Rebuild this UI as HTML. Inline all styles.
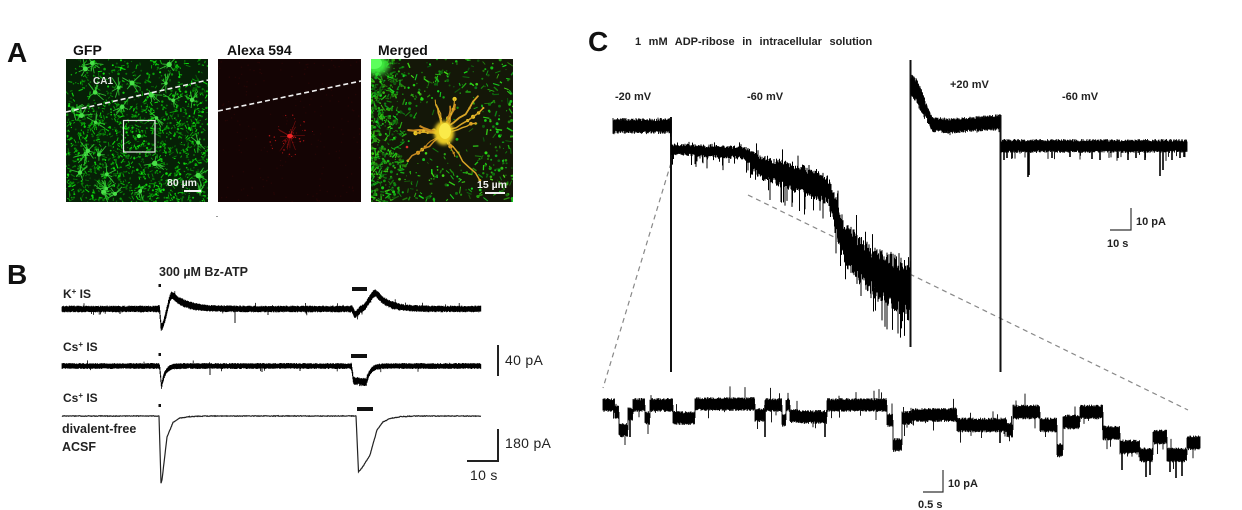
<!DOCTYPE html>
<html><head><meta charset="utf-8">
<style>
html,body{margin:0;padding:0;background:#fff;}
body{width:1242px;height:510px;overflow:hidden;position:relative;}
svg{position:absolute;left:0;top:0;}
text{font-family:"Liberation Sans",Arial,sans-serif;}
</style></head><body>
<svg id="s" width="1242" height="510" viewBox="0 0 1242 510" xmlns="http://www.w3.org/2000/svg">
<defs>
  <clipPath id="cg"><rect x="66" y="59" width="142" height="143"/></clipPath>
  <clipPath id="ca"><rect x="218" y="59" width="143" height="143"/></clipPath>
  <clipPath id="cm"><rect x="371" y="59" width="142" height="143"/></clipPath>
  <filter id="bl1" x="-50%" y="-50%" width="200%" height="200%"><feGaussianBlur stdDeviation="1.5"/></filter>
  <filter id="bl2" x="-50%" y="-50%" width="200%" height="200%"><feGaussianBlur stdDeviation="3"/></filter>
  <filter id="bl05"><feGaussianBlur stdDeviation="0.3"/></filter>
</defs>

<!-- Panel A images -->
<rect x="66" y="59" width="142" height="143" fill="#062006"/>
<g id="gfp" clip-path="url(#cg)"></g>
<rect x="218" y="59" width="143" height="143" fill="#140404"/>
<g id="alx" clip-path="url(#ca)"></g>
<rect x="371" y="59" width="142" height="143" fill="#141708"/>
<g id="mrg" clip-path="url(#cm)" filter="url(#bl05)"></g>

<line x1="66" y1="112" x2="208" y2="80" stroke="#f0f0f0" stroke-width="1.6" stroke-dasharray="5 3"/>
<line x1="218" y1="111" x2="361" y2="81" stroke="#f0f0f0" stroke-width="1.6" stroke-dasharray="5 3"/>
<rect x="123.5" y="120.5" width="31.5" height="31.5" fill="none" stroke="#e8e8e8" stroke-width="1.2"/>
<text x="93" y="84" font-size="10" font-weight="bold" fill="#e8e8e8">CA1</text>
<text x="167" y="186" font-size="10.5" font-weight="bold" fill="#f0f0f0">80 µm</text>
<rect x="184" y="190" width="17" height="2" fill="#f0f0f0"/>
<text x="477" y="188" font-size="10.5" font-weight="bold" fill="#f0f0f0">15 µm</text>
<rect x="485" y="192" width="20" height="2" fill="#f0f0f0"/>

<text x="7" y="62" font-size="28" font-weight="bold" fill="#111">A</text>
<text x="73" y="55" font-size="14" font-weight="bold" fill="#111">GFP</text>
<text x="227" y="55" font-size="14" font-weight="bold" fill="#111">Alexa 594</text>
<text x="378" y="55" font-size="14" font-weight="bold" fill="#111">Merged</text>
<rect x="216" y="216" width="2" height="1" fill="#999"/>

<!-- Panel B -->
<text x="7" y="284" font-size="28" font-weight="bold" fill="#111">B</text>
<text x="159" y="276" font-size="12.5" font-weight="bold" fill="#222">300 µM Bz-ATP</text>
<text x="63" y="298" font-size="12" font-weight="bold" fill="#222">K<tspan font-size="8" dy="-4">+</tspan><tspan dy="4"> IS</tspan></text>
<text x="63" y="351" font-size="12" font-weight="bold" fill="#222">Cs<tspan font-size="8" dy="-4">+</tspan><tspan dy="4"> IS</tspan></text>
<text x="63" y="402" font-size="12" font-weight="bold" fill="#222">Cs<tspan font-size="8" dy="-4">+</tspan><tspan dy="4"> IS</tspan></text>
<text x="62" y="433" font-size="12.5" font-weight="bold" fill="#222">divalent-free</text>
<text x="62" y="451" font-size="12.5" font-weight="bold" fill="#222">ACSF</text>

<rect x="158.5" y="284" width="2.5" height="3" fill="#111"/>
<rect x="352" y="287" width="15" height="4" fill="#111"/>
<rect x="158.5" y="353" width="2.5" height="3" fill="#111"/>
<rect x="351" y="354" width="16" height="4" fill="#111"/>
<rect x="158.5" y="404" width="2.5" height="3" fill="#111"/>
<rect x="357" y="407" width="16" height="4" fill="#111"/>

<rect x="497" y="345" width="2" height="31" fill="#222"/>
<text x="505" y="365" font-size="14" fill="#222" letter-spacing="0.3">40 pA</text>
<rect x="497" y="429" width="2" height="33" fill="#222"/>
<rect x="467" y="460" width="32" height="2" fill="#222"/>
<text x="505" y="448" font-size="14" fill="#222" letter-spacing="0.3">180 pA</text>
<text x="470" y="480" font-size="14" fill="#222" letter-spacing="0.3">10 s</text>

<!-- Panel C -->
<text x="588" y="51" font-size="28" font-weight="bold" fill="#111">C</text>
<text x="635" y="45" font-size="11" font-weight="bold" fill="#222" word-spacing="4.5">1 mM ADP-ribose in intracellular solution</text>
<text x="615" y="100" font-size="11" font-weight="bold" fill="#222">-20 mV</text>
<text x="747" y="100" font-size="11" font-weight="bold" fill="#222">-60 mV</text>
<text x="950" y="88" font-size="11" font-weight="bold" fill="#222">+20 mV</text>
<text x="1062" y="100" font-size="11" font-weight="bold" fill="#222">-60 mV</text>

<line x1="671" y1="163" x2="603" y2="388" stroke="#888" stroke-width="1.2" stroke-dasharray="5 4"/>
<line x1="748" y1="195" x2="1188" y2="410" stroke="#888" stroke-width="1.2" stroke-dasharray="5 4"/>

<rect x="670" y="117" width="2" height="255" fill="#111"/>
<rect x="909.5" y="60" width="2" height="287" fill="#111"/>
<rect x="999.5" y="115" width="2" height="257" fill="#111"/>

<line x1="1131" y1="208" x2="1131" y2="230.5" stroke="#333" stroke-width="1.2"/>
<line x1="1110" y1="230" x2="1131.5" y2="230" stroke="#333" stroke-width="1.2"/>
<text x="1136" y="225" font-size="11" font-weight="bold" fill="#222">10 pA</text>
<text x="1107" y="247" font-size="11" font-weight="bold" fill="#222">10 s</text>

<line x1="943" y1="470" x2="943" y2="492.5" stroke="#333" stroke-width="1.2"/>
<line x1="923" y1="492" x2="943.5" y2="492" stroke="#333" stroke-width="1.2"/>
<text x="948" y="487" font-size="11" font-weight="bold" fill="#222">10 pA</text>
<text x="918" y="508" font-size="11" font-weight="bold" fill="#222">0.5 s</text>

<g id="tr"></g>
</svg>
<script>
(function(){
var NS='http://www.w3.org/2000/svg';
function rng(seed){return function(){seed|=0;seed=seed+0x6D2B79F5|0;var t=Math.imul(seed^seed>>>15,1|seed);t=t+Math.imul(t^t>>>7,61|t)^t;return((t^t>>>14)>>>0)/4294967296;};}
var R=rng(98765);
function el(tag,a,p){var e=document.createElementNS(NS,tag);for(var k in a)e.setAttribute(k,a[k]);p.appendChild(e);return e;}
var TR=document.getElementById('tr');
function interp(kp,x){if(x<=kp[0][0])return kp[0][1];for(var i=1;i<kp.length;i++){if(x<=kp[i][0]){var a=kp[i-1],b=kp[i];return a[1]+(b[1]-a[1])*(x-a[0])/(b[0]-a[0]);}}return kp[kp.length-1][1];}
function ease(u){return 0.5-0.5*Math.cos(Math.PI*u);}

/* ---------- Panel A textures ---------- */
var g=document.getElementById('gfp'),i,k,x,y;
for(i=0;i<1700;i++){
  x=66+R()*142;y=59+R()*143;
  var above=(y<112-(x-66)*0.225);
  if(above&&R()<0.55)continue;
  var l=18+R()*30;
  var col='hsl(120,88%,'+l.toFixed(0)+'%)';
  if(R()<0.45){el('circle',{cx:x.toFixed(1),cy:y.toFixed(1),r:(0.5+R()*0.8).toFixed(2),fill:col},g);}
  else{var a=R()*6.28,ln=1.5+R()*3.5;el('line',{x1:x.toFixed(1),y1:y.toFixed(1),x2:(x+Math.cos(a)*ln).toFixed(1),y2:(y+Math.sin(a)*ln).toFixed(1),stroke:col,'stroke-width':(0.7+R()*0.5).toFixed(2)},g);}
}
for(i=0;i<28;i++){
  x=68+R()*138;y=62+R()*138;
  for(k=0;k<7;k++){var a2=R()*6.28,ln2=4+R()*8;
    el('line',{x1:x,y1:y,x2:(x+Math.cos(a2)*ln2).toFixed(1),y2:(y+Math.sin(a2)*ln2).toFixed(1),stroke:'#30bb30','stroke-width':0.9},g);}
  el('circle',{cx:x,cy:y,r:(1.5+R()*1.2).toFixed(2),fill:'#48e048'},g);
}
el('circle',{cx:139,cy:136,r:2,fill:'#5f5'},g);

var al=document.getElementById('alx');
for(i=0;i<200;i++){el('circle',{cx:(218+R()*143).toFixed(1),cy:(59+R()*143).toFixed(1),r:0.7,fill:'#260606'},al);}
var acx=290,acy=136;
for(i=0;i<12;i++){var aa=R()*6.28,ll=6+R()*12;
  el('line',{x1:acx,y1:acy,x2:(acx+Math.cos(aa)*ll).toFixed(1),y2:(acy+Math.sin(aa)*ll).toFixed(1),stroke:'#7a0e0e','stroke-width':0.6},al);}
for(i=0;i<40;i++){var ra=R()*6.28,rr=3+R()*20;
  el('circle',{cx:(acx+Math.cos(ra)*rr).toFixed(1),cy:(acy+Math.sin(ra)*rr).toFixed(1),r:(0.4+R()*0.4).toFixed(2),fill:'#a81414'},al);}
el('ellipse',{cx:acx,cy:acy,rx:3,ry:2.2,fill:'#f02626'},al);

var m=document.getElementById('mrg');
for(i=0;i<1000;i++){
  if(R()<0.4){x=371+Math.pow(R(),1.6)*30;}else{x=371+R()*142;}
  y=59+R()*143;
  var dx=x-446,dy=y-132;
  if(dx*dx+dy*dy<1600&&R()<0.6)continue;
  var lm=18+R()*30;
  var cm='hsl('+(105+R()*20).toFixed(0)+',80%,'+lm.toFixed(0)+'%)';
  if(R()<0.5){el('circle',{cx:x.toFixed(1),cy:y.toFixed(1),r:(0.5+R()*1.1).toFixed(2),fill:cm},m);}
  else{var am=R()*6.28,lnm=2+R()*5;el('line',{x1:x.toFixed(1),y1:y.toFixed(1),x2:(x+Math.cos(am)*lnm).toFixed(1),y2:(y+Math.sin(am)*lnm).toFixed(1),stroke:cm,'stroke-width':(0.8+R()*0.7).toFixed(2)},m);}
}
el('ellipse',{cx:376,cy:65,rx:13,ry:10,fill:'#3ee83e',filter:'url(#bl2)'},m);
el('ellipse',{cx:374,cy:63,rx:8,ry:6,fill:'#5cff5c'},m);
var cx=444,cy=133;
for(i=0;i<16;i++){
  var ang=R()*6.283,len=20+R()*42,px=cx,py=cy,d='M'+cx+' '+cy;
  for(k=1;k<=7;k++){var a3=ang+(R()-0.5)*0.7;px+=Math.cos(a3)*len/7;py+=Math.sin(a3)*len/7;d+='L'+px.toFixed(1)+' '+py.toFixed(1);
    if(R()<0.45)el('circle',{cx:px.toFixed(1),cy:py.toFixed(1),r:(0.8+R()*1.4).toFixed(2),fill:R()<0.5?'#eccc26':'#dca01e'},m);}
  el('path',{d:d,fill:'none',stroke:R()<0.5?'#c88a20':'#d8a526','stroke-width':(0.9+R()*1.2).toFixed(2),'stroke-linecap':'round'},m);
}
el('ellipse',{cx:cx,cy:cy,rx:10,ry:12,fill:'#ecce28',filter:'url(#bl1)'},m);
el('ellipse',{cx:cx+1,cy:cy-2,rx:6,ry:8,fill:'#faea48'},m);
el('circle',{cx:407,cy:147,r:1.3,fill:'#e03030'},m);

/* ---------- column band helper ---------- */
function band(x0,x1,cf,af,step,sp,sa,downBias,w,solid){
  var d='',prev=null,s=solid||0.5;
  for(var x=x0;x<=x1+1e-6;x+=step){
    var c=cf(x),a=af(x);
    var t=c-a*(s+(1-s)*R()),b=c+a*(s+(1-s)*R());
    if(R()<sp){if(R()<downBias)b=c+a+R()*sa;else t=c-a-R()*sa;}
    if(prev!==null&&Math.abs(prev-c)>a){d+='M'+x.toFixed(2)+' '+prev.toFixed(2)+'V'+c.toFixed(2);}
    d+='M'+x.toFixed(2)+' '+t.toFixed(2)+'V'+b.toFixed(2);
    prev=c;
  }
  el('path',{d:d,fill:'none',stroke:'#000','stroke-width':w||1},TR);
}

/* ---------- Panel B traces ---------- */
function f1(x){var y=309,t=x-159.5;
  if(t>=0){if(t<1.5)y+=18*t/1.5;else if(t<13)y+=18-32*ease((t-1.5)/11.5);else y+=-14*Math.exp(-(t-13)/13);}
  t=x-352;
  if(t>=0){if(t<3)y+=6*t/3;else if(t<9)y+=6-6*(t-3)/6;else if(t<24)y+=-16*ease((t-9)/15);else y+=-16*Math.exp(-(t-24)/12);}
  return y;}
band(62,481,f1,function(x){return (x>158&&x<200)||(x>350&&x<400)?4:3.4;},0.4,0.02,3,0.6,0.8,0.6);
el('path',{d:'M235 310V323M268 310V315M120 310V314',stroke:'#111','stroke-width':1,fill:'none'},TR);
function f2(x){var y=366,t=x-159.5;
  if(t>=0){if(t<2)y+=21*t/2;else y+=21*Math.exp(-(t-2)/3.5);}
  t=x-351.5;
  if(t>=0){if(t<2)y+=15*t/2;else if(t<15)y+=15+(t>8?1:0);else y+=15*Math.exp(-(t-15)/4);}
  return y;}
band(62,481,f2,function(x){return (x>351&&x<368)?4.2:3;},0.4,0.02,3,0.6,0.8,0.6);
el('path',{d:'M210 366V375M262 366V372M300 366V371',stroke:'#111','stroke-width':1,fill:'none'},TR);
var k3=[[62,416],[159,416],[161,483],[162,480],[167,437],[173,422.5],[180,418],[190,416.6],[207,416],[356,416],[358.5,472],[362,468],[370,455],[377,430],[383,422],[390,418.5],[400,416.7],[415,416],[481,416]];
(function(){var d='';for(var x=62;x<=481;x+=0.5){var y=interp(k3,x)+0.35*(2*R()-1);d+=(d?'L':'M')+x.toFixed(2)+' '+y.toFixed(2);}
el('path',{d:d,fill:'none',stroke:'#222','stroke-width':1.2},TR);})();

/* ---------- Panel C traces ---------- */
band(613,671,function(){return 126;},function(){return 8;},0.5,0.04,3,0.5,0.9,0.6);

/* decline: dense body with jagged spikes */
(function(){
  var tK=[[671,143],[745,146],[760,155],[800,163],[828,175],[845,222],[870,242],[910,262]];
  var bK=[[671,155],[745,160],[760,180],[800,195],[828,205],[845,268],[870,294],[910,322]];
  var d='';
  for(var x=671.5;x<=910;x+=0.5){
    var tp=interp(tK,x),bt=interp(bK,x),sp=bt-tp;
    var t=tp+R()*sp*0.28,b=bt-R()*sp*0.28;
    var r=R();
    if(r<0.10)b=bt+R()*(8+sp*0.35);
    else if(r<0.16)t=tp-R()*(4+sp*0.25);
    else if(r<0.22){var mid=tp+R()*sp;t=mid-3;b=mid+3+R()*6;}
    d+='M'+x.toFixed(2)+' '+t.toFixed(2)+'V'+b.toFixed(2);
  }
  el('path',{d:d,fill:'none',stroke:'#000','stroke-width':1},TR);
})();

var pK=[[911,86],[916,90],[924,106],[932,124],[950,126],[990,123],[1000,122]];
band(911,1000,function(x){return interp(pK,x);},function(x){return x<925?12:8;},0.5,0.04,3,0.5,0.9,0.6);
band(1001,1187,function(){return 146;},function(){return 7;},0.5,0.05,8,0.9,0.9,0.6);
var sp=[[1004,160],[1007,158],[1028,177],[1029,175],[1052,158],[1070,157],[1092,159],[1100,160],[1118,158],[1128,160],[1136,158],[1145,160],[1160,176],[1163,170],[1172,160],[1180,158],[1184,157]];
for(i=0;i<sp.length;i++){el('line',{x1:sp[i][0],y1:146,x2:sp[i][0],y2:sp[i][1],stroke:'#000','stroke-width':1.6},TR);}
var lv=[[603,405],[615,412],[619,430],[628,414],[633,405],[645,418],[650,405],[673,418],[695,404],[755,415],[765,405],[782,420],[786,405],[790,416],[800,417],[827,405],[887,420],[893,445],[902,418],[912,415],[957,425],[1007,430],[1013,412],[1040,425],[1057,450],[1063,422],[1080,412],[1103,433],[1120,447],[1140,455],[1153,437],[1167,455],[1187,443],[1200,443]];
function lvl(x){var v=lv[0][1];for(var j=0;j<lv.length;j++){if(x>=lv[j][0])v=lv[j][1];}return v;}
band(603,1200,lvl,function(x){return x>950?7.5:7;},0.5,0.06,11,0.6,0.9,0.65);
var sp2=[[765,437],[825,437],[630,437],[1000,443],[1122,470],[1146,477],[1150,475],[1176,478],[1182,476],[1170,472]];
for(i=0;i<sp2.length;i++){el('line',{x1:sp2[i][0],y1:lvl(sp2[i][0]),x2:sp2[i][0],y2:sp2[i][1],stroke:'#000','stroke-width':1.6},TR);}
})();
</script>
</body></html>
